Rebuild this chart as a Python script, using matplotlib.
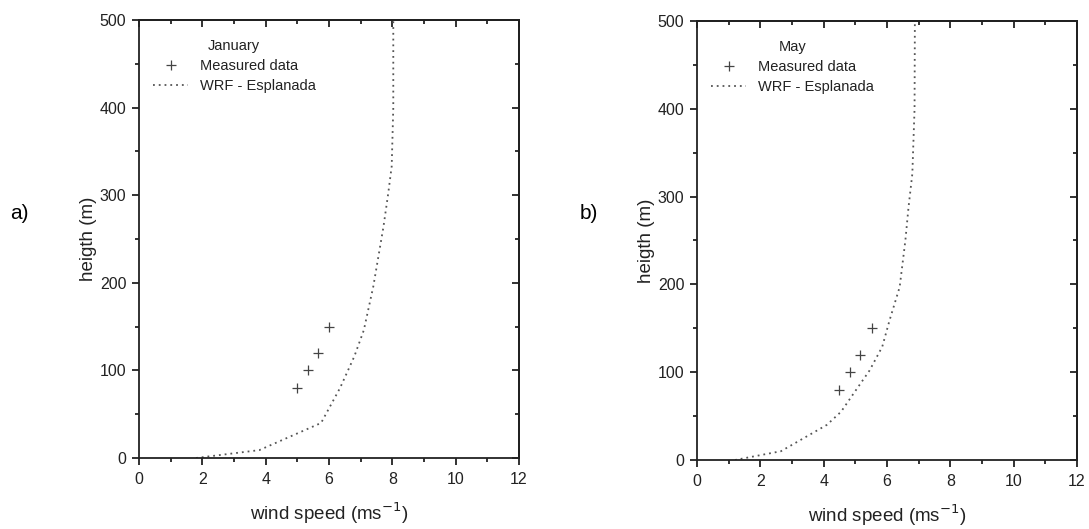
import matplotlib
matplotlib.use("Agg")
import matplotlib.pyplot as plt
from matplotlib.ticker import MultipleLocator

plt.rcParams['font.family'] = ['Liberation Sans', 'DejaVu Sans']

# Panel a) January
jan_meas_speed = [5.0, 5.35, 5.65, 6.0]
jan_meas_height = [80, 100, 120, 150]
jan_wrf_speed = [1.8, 3.8, 5.75, 6.35, 6.8, 7.1, 7.4, 7.72, 7.87, 7.98, 8.03, 8.03, 8.03]
jan_wrf_height = [0, 9, 40, 80, 116, 146, 196, 264, 302, 333, 400, 450, 500]

# Panel b) May
may_meas_speed = [4.49, 4.83, 5.14, 5.53]
may_meas_height = [80, 100, 120, 150]
may_wrf_speed = [1.2, 2.65, 4.1, 4.55, 4.95, 5.45, 5.85, 6.08, 6.4, 6.58, 6.68, 6.8, 6.87, 6.88]
may_wrf_height = [0, 10, 40, 55, 76, 102, 129, 159, 197, 250, 288, 326, 400, 500]

panels = [
    dict(label="a)", title="January", ms=jan_meas_speed, mh=jan_meas_height,
         ws=jan_wrf_speed, wh=jan_wrf_height,
         rect=[139/1089, 71/529, 380/1089, 438/529], lx=10/1089),
    dict(label="b)", title="May", ms=may_meas_speed, mh=may_meas_height,
         ws=may_wrf_speed, wh=may_wrf_height,
         rect=[697/1089, 69/529, 380/1089, 439/529], lx=580/1089),
]

fig = plt.figure(figsize=(10.89, 5.29), dpi=100)
txt = '#222222'
for p in panels:
    ax = fig.add_axes(p['rect'])
    ax.plot(p['ws'], p['wh'], linestyle=(0, (1, 2.2)), color='#555555', lw=1.3,
            label='WRF - Esplanada', zorder=2)
    ax.plot(p['ms'], p['mh'], linestyle='none', marker='+', markersize=7,
            mew=0.9, color='#444444', label='Measured data', zorder=3)
    ax.set_xlim(0, 12)
    ax.set_ylim(0, 500)
    ax.xaxis.set_major_locator(MultipleLocator(2))
    ax.xaxis.set_minor_locator(MultipleLocator(1))
    ax.yaxis.set_major_locator(MultipleLocator(100))
    ax.yaxis.set_minor_locator(MultipleLocator(50))
    ax.tick_params(which='both', direction='out', top=False, right=False,
                   labelsize=11.5, colors=txt, width=1.3)
    ax.tick_params(axis='x', which='major', length=5, pad=5)
    ax.tick_params(axis='y', which='major', length=5, pad=4)
    ax.tick_params(which='minor', length=3)
    axt = ax.secondary_xaxis('top')
    axt.xaxis.set_major_locator(MultipleLocator(2))
    axt.xaxis.set_minor_locator(MultipleLocator(1))
    axt.tick_params(which='both', direction='in', labeltop=False, width=1.3, colors=txt)
    axt.tick_params(which='major', length=5)
    axt.tick_params(which='minor', length=3)
    axr = ax.secondary_yaxis('right')
    axr.yaxis.set_major_locator(MultipleLocator(100))
    axr.yaxis.set_minor_locator(MultipleLocator(50))
    axr.tick_params(which='both', direction='in', labelright=False, width=1.3, colors=txt)
    axr.tick_params(which='major', length=5)
    axr.tick_params(which='minor', length=3)
    for s in ax.spines.values():
        s.set_linewidth(1.3)
        s.set_color(txt)
    axt.spines['top'].set_linewidth(1.3)
    axr.spines['right'].set_linewidth(1.3)
    ax.set_xlabel('wind speed (ms$^{-1}$)', fontsize=13.5, color=txt, labelpad=10)
    ax.set_ylabel('heigth (m)', fontsize=13.5, color=txt, labelpad=2)
    h, l = ax.get_legend_handles_labels()
    leg = ax.legend(h[::-1], l[::-1], title=p['title'], loc='upper left',
                    bbox_to_anchor=(0.01, 0.98), frameon=False, fontsize=10.5,
                    title_fontsize=10.5, handlelength=2.4, labelspacing=0.4,
                    borderaxespad=0.3)
    for t in leg.get_texts():
        t.set_color(txt)
    leg.get_title().set_color(txt)
    fig.text(p['lx'], 1 - 213/529, p['label'], fontsize=15, color='black',
             va='center', ha='left')

fig.savefig('out.png', dpi=100)
